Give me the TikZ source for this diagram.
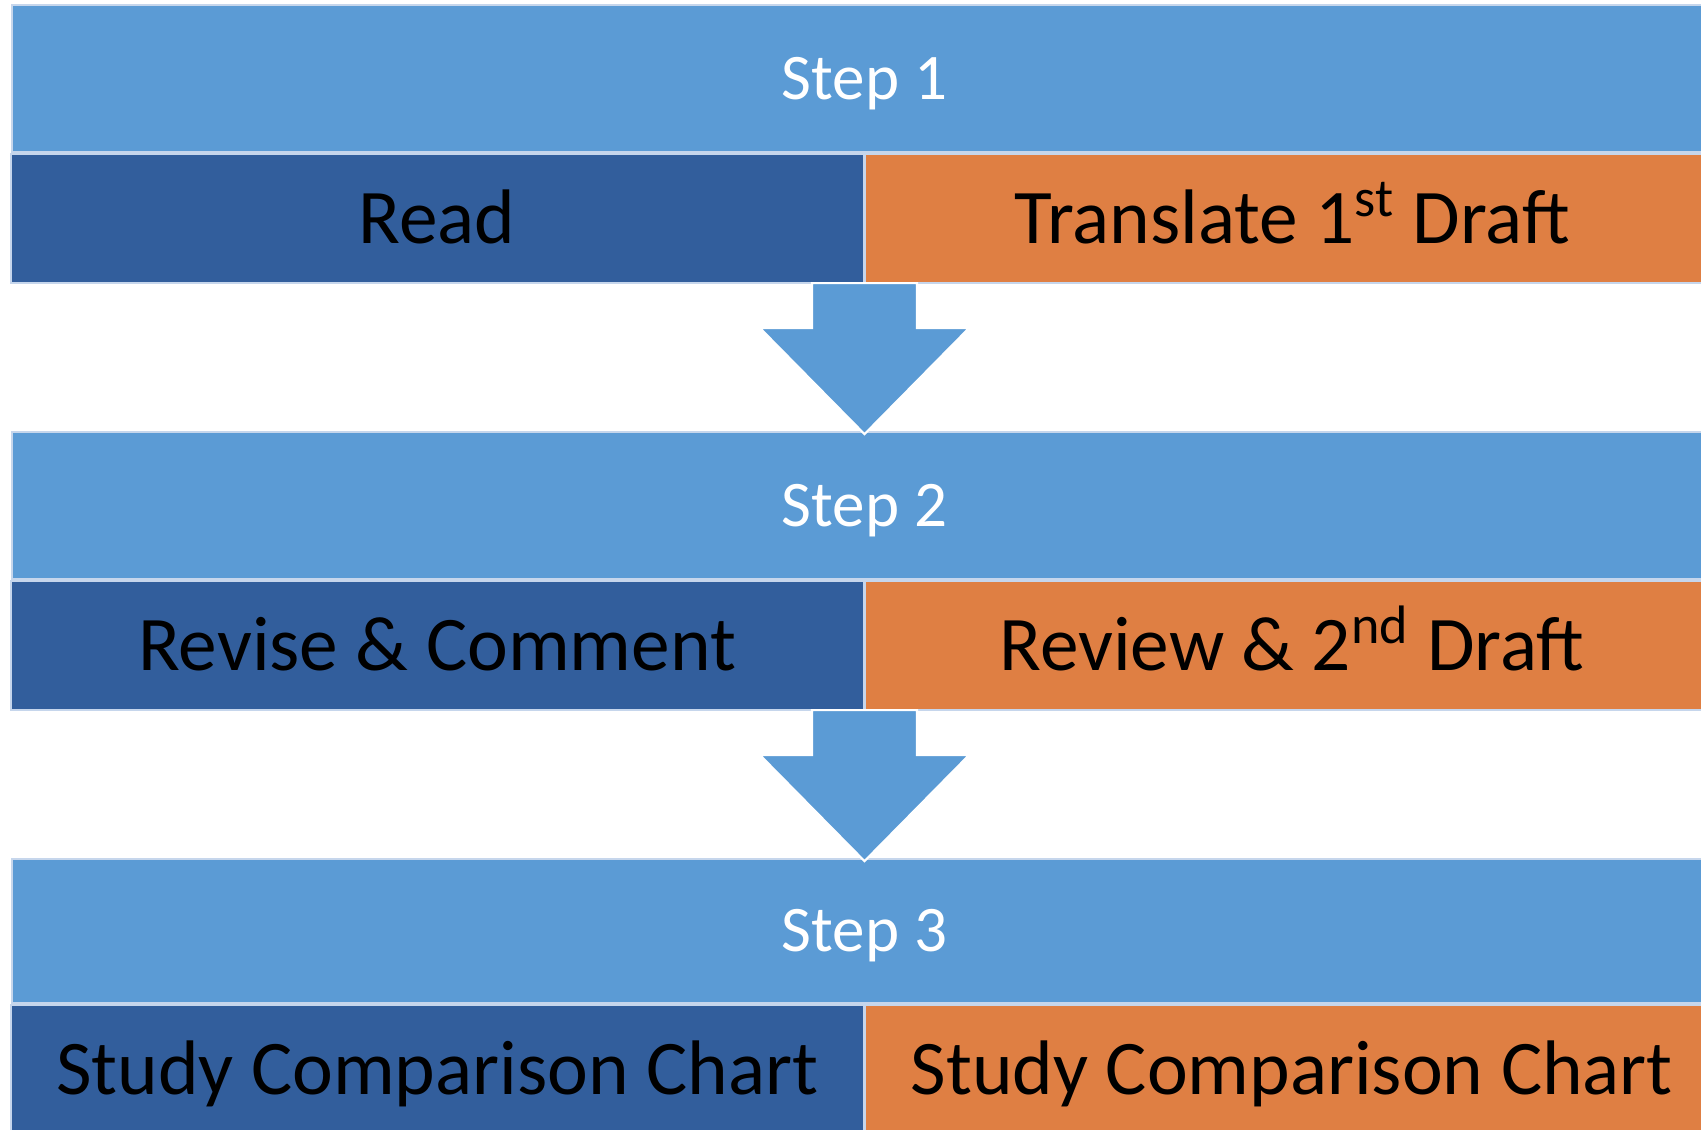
\documentclass[tikz,border=0pt]{standalone}
\usepackage{fontspec}
\setmainfont{Carlito}
\usetikzlibrary{positioning}

\definecolor{stepblue}{HTML}{5B9BD5}
\definecolor{leftblue}{HTML}{325E9C}
\definecolor{rightorange}{HTML}{DF7F43}
\definecolor{edgeline}{HTML}{C6D6EC}

\tikzset{
    stepbar/.style={fill=stepblue, draw=edgeline, line width=0.5pt, rectangle,
        minimum width=17.05cm, minimum height=1.47cm, inner sep=0pt,
        text height=11.9pt, text depth=0pt,
        text=white, font=\fontsize{18.5pt}{21pt}\selectfont},
    leftcell/.style={fill=leftblue, draw=edgeline, line width=0.5pt, rectangle,
        minimum width=8.53cm, minimum height=1.29cm, inner sep=0pt,
        text height=14.2pt, text depth=0pt,
        text=black, font=\fontsize{22pt}{25pt}\selectfont},
    rightcell/.style={leftcell, fill=rightorange},
    bigarrow/.style={fill=stepblue, draw=white, line width=0.6pt}
}

\begin{document}
\begin{tikzpicture}
    \useasboundingbox (0,0) rectangle (17.01,11.30);
    \clip (0,0) rectangle (17.01,11.30);

    % Step 1
    \node[stepbar] (step1) at (8.645,10.515) {Step 1};
    \node[leftcell, anchor=north east] (read) at (step1.south) {Read};
    \node[rightcell, anchor=north west] (translate) at (step1.south) {Translate 1\textsuperscript{st} Draft};

    % Step 2
    \node[stepbar] (step2) at (8.645,6.245) {Step 2};
    \node[leftcell, anchor=north east] (revise) at (step2.south) {Revise \& Comment};
    \node[rightcell, anchor=north west] (review) at (step2.south) {Review \& 2\textsuperscript{nd} Draft};

    % Step 3 (a bit shorter bar)
    \node[stepbar, minimum height=1.44cm] (step3) at (8.645,1.99) {Step 3};
    \node[leftcell, anchor=north east] (studyleft) at (step3.south) {Study Comparison Chart};
    \node[rightcell, anchor=north west] (studyright) at (step3.south) {Study Comparison Chart};

    % block arrows between the steps, drawn up from the tip
    \filldraw[bigarrow] ([yshift=-0.3mm]step2.north) -- ++(-1.045,1.06) -- ++(0.52,0) -- ++(0,0.45)
        -- ++(1.05,0) -- ++(0,-0.45) -- ++(0.52,0) -- cycle;
    \filldraw[bigarrow] ([yshift=-0.3mm]step3.north) -- ++(-1.045,1.06) -- ++(0.52,0) -- ++(0,0.45)
        -- ++(1.05,0) -- ++(0,-0.45) -- ++(0.52,0) -- cycle;
\end{tikzpicture}
\end{document}
